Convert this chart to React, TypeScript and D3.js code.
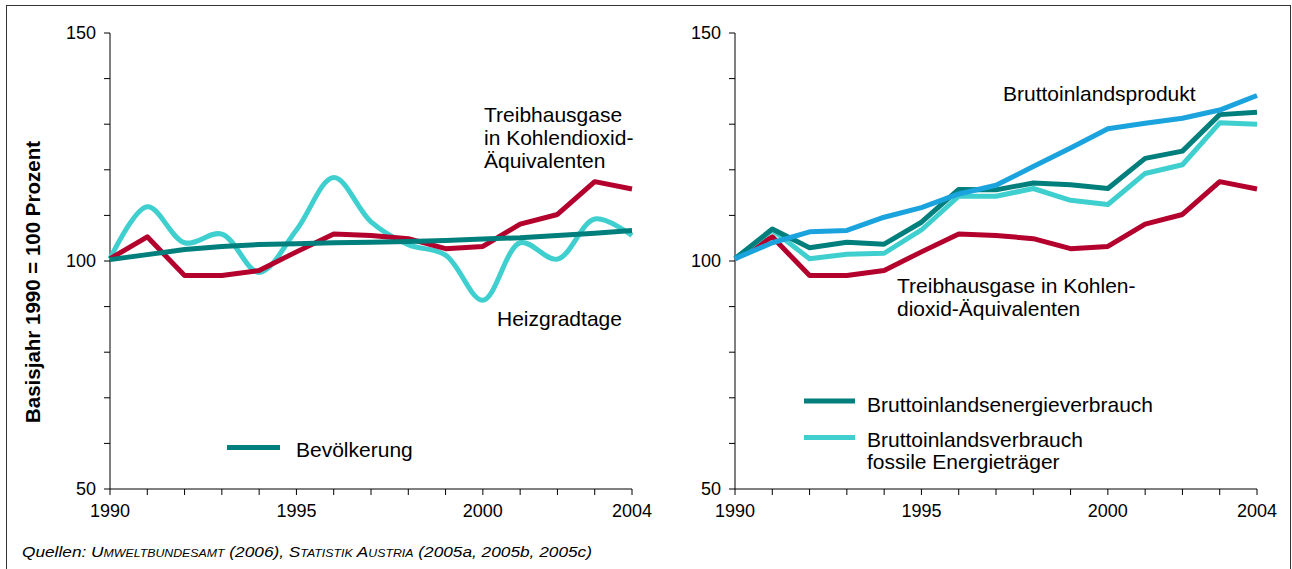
import React from 'react';
import * as d3 from 'd3';

const years = d3.range(1990, 2005);
const yearLabels = [1990, 1995, 2000, 2004];
const valueTicks = [50, 60, 70, 80, 90, 100, 110, 120, 130, 140, 150];
const valueLabels = [50, 100, 150];

// Treibhausgase in CO2-Äquivalenten
const treibhausgase = [100.5, 105.3, 96.8, 96.8, 97.9, 102.0, 105.9, 105.6, 104.9, 102.7, 103.2, 108.1, 110.2, 117.4, 115.8];
// Heizgradtage (geglättet)
const heizgradtage = [100.5, 111.9, 104.0, 105.9, 97.5, 106.8, 118.3, 108.6, 103.6, 101.3, 91.4, 104.0, 100.4, 109.2, 105.6];
// Bevölkerung
const bevoelkerung = [100.3, 101.4, 102.5, 103.2, 103.6, 103.8, 104.0, 104.1, 104.3, 104.5, 104.8, 105.1, 105.6, 106.1, 106.7];
// Bruttoinlandsprodukt
const bip = [100.5, 104.0, 106.4, 106.7, 109.6, 111.7, 114.7, 116.6, 120.7, 124.8, 129.0, 130.2, 131.3, 133.1, 136.3];
// Bruttoinlandsenergieverbrauch
const energie = [100.5, 107.0, 102.9, 104.1, 103.7, 108.5, 115.7, 115.6, 117.1, 116.7, 115.9, 122.5, 124.1, 132.1, 132.6];
// Bruttoinlandsverbrauch fossile Energieträger
const fossil = [100.5, 106.8, 100.5, 101.5, 101.7, 106.8, 114.2, 114.2, 115.9, 113.3, 112.4, 119.2, 121.1, 130.3, 130.0];

const RED = '#b3002d';
const TEAL = '#007f7c';
const CYAN = '#3fcfcf';
const BLUE = '#1ba3dd';
const FONT = '"Liberation Sans", Arial, sans-serif';

const yScale = d3.scaleLinear().domain([50, 150]).range([489, 33]);

type Series = { values: number[]; color: string; smooth?: boolean };

function Panel({ x0, x1, series }: { x0: number; x1: number; series: Series[] }) {
  const xScale = d3.scaleLinear().domain([1990, 2004]).range([x0, x1]);
  const mk = (smooth?: boolean) =>
    d3.line<number>()
      .x((_, i) => xScale(years[i]))
      .y((d) => yScale(d))
      .curve(smooth ? d3.curveCatmullRom.alpha(0.5) : d3.curveLinear);
  return (
    <g>
      <line x1={x0} x2={x0} y1={yScale(50)} y2={yScale(150)} stroke="#000" strokeWidth={1} />
      <line x1={x0} x2={x1} y1={yScale(50)} y2={yScale(50)} stroke="#000" strokeWidth={1} />
      {valueTicks.map((t) => (
        <line key={t} x1={x0 - 6} x2={x0} y1={yScale(t)} y2={yScale(t)} stroke="#000" />
      ))}
      {valueLabels.map((t) => (
        <text key={t} x={x0 - 14} y={yScale(t)} dy="0.35em" textAnchor="end" fontSize={18} fontFamily={FONT}>{t}</text>
      ))}
      {years.map((yr) => (
        <line key={yr} x1={xScale(yr)} x2={xScale(yr)} y1={yScale(50)} y2={yScale(50) + 6} stroke="#000" />
      ))}
      {yearLabels.map((yr) => (
        <text key={yr} x={xScale(yr)} y={517} textAnchor="middle" fontSize={18} fontFamily={FONT}>{yr}</text>
      ))}
      {series.map((s, i) => (
        <path key={i} d={mk(s.smooth)(s.values) || ''} fill="none" stroke={s.color} strokeWidth={5} strokeLinejoin="round" />
      ))}
    </g>
  );
}

export default function App() {
  const t = { fontSize: 21, fontFamily: FONT, fill: '#000' };
  return (
    <div style={{ position: 'absolute', left: 0, top: 0 }}>
      <svg width={1292} height={569} style={{ display: 'block', background: '#fff' }}>
        <rect x={6.5} y={5.5} width={1284} height={600} fill="none" stroke="#333" strokeWidth={1} />
        <text transform="translate(40,282) rotate(-90)" textAnchor="middle" fontSize={20.5} fontWeight="bold" fontFamily={FONT}>
          Basisjahr 1990 = 100 Prozent
        </text>

        <Panel
          x0={110}
          x1={632}
          series={[
            { values: heizgradtage, color: CYAN, smooth: true },
            { values: treibhausgase, color: RED },
            { values: bevoelkerung, color: TEAL },
          ]}
        />
        <text x={484} y={122} {...t}>Treibhausgase</text>
        <text x={484} y={145} {...t}>in Kohlendioxid-</text>
        <text x={484} y={168} {...t}>Äquivalenten</text>
        <text x={497} y={326} {...t}>Heizgradtage</text>
        <line x1={227} x2={280} y1={447.5} y2={447.5} stroke={TEAL} strokeWidth={5} />
        <text x={296} y={456.5} {...t}>Bevölkerung</text>

        <Panel
          x0={735}
          x1={1257}
          series={[
            { values: treibhausgase, color: RED },
            { values: fossil, color: CYAN },
            { values: energie, color: TEAL },
            { values: bip, color: BLUE },
          ]}
        />
        <text x={1003} y={101} {...t}>Bruttoinlandsprodukt</text>
        <text x={897} y={293} {...t}>Treibhausgase in Kohlen-</text>
        <text x={897} y={316} {...t}>dioxid-Äquivalenten</text>
        <line x1={804} x2={855} y1={401} y2={401} stroke={TEAL} strokeWidth={5} />
        <text x={867} y={411.5} {...t}>Bruttoinlandsenergieverbrauch</text>
        <line x1={804} x2={855} y1={437.5} y2={437.5} stroke={CYAN} strokeWidth={5} />
        <text x={867} y={446.5} {...t}>Bruttoinlandsverbrauch</text>
        <text x={867} y={469} {...t}>fossile Energieträger</text>

        <text x={22} y={557} fontSize={14} fontStyle="italic" fontFamily={FONT} textLength={570} lengthAdjust="spacingAndGlyphs">
          Quellen: <tspan fontVariant="small-caps">Umweltbundesamt</tspan> (2006), <tspan fontVariant="small-caps">Statistik Austria</tspan> (2005a, 2005b, 2005c)
        </text>
      </svg>
    </div>
  );
}
